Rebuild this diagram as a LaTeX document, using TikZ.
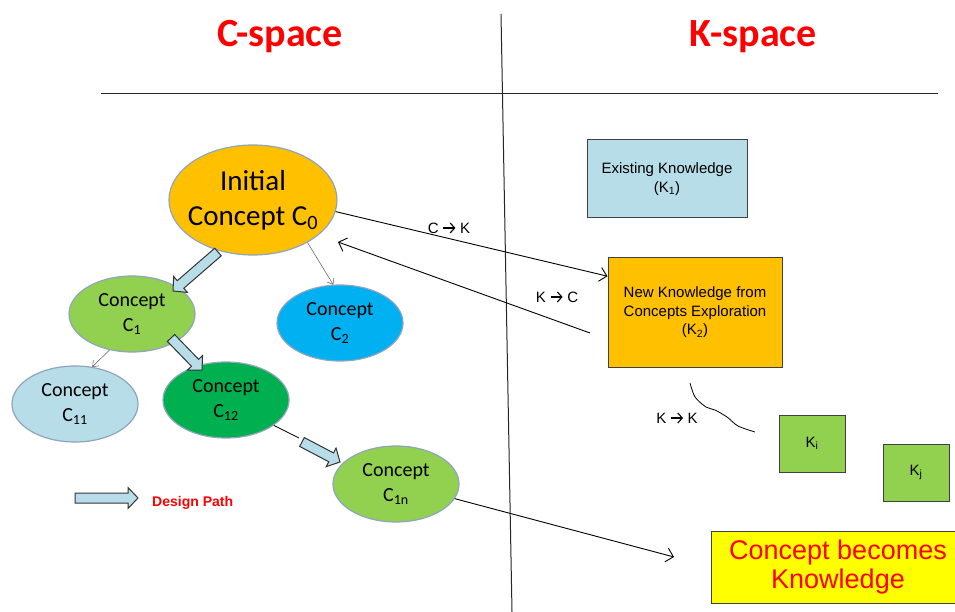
\documentclass[tikz,border=0pt]{standalone}
\usepackage{fontspec}
\setmainfont{Liberation Sans}
\newfontfamily\calfont{Carlito}
\usetikzlibrary{shapes.geometric,arrows.meta,calc}
\definecolor{corange}{HTML}{FFC000}
\definecolor{cgreen}{HTML}{92D050}
\definecolor{cblue}{HTML}{00B0F0}
\definecolor{clblue}{HTML}{B7DEE8}
\definecolor{cdgreen}{HTML}{00B050}
\definecolor{cedge}{HTML}{8FA4BD}
\definecolor{cyell}{HTML}{FFFF00}
\newcommand\arrowsym{\tikz[x=1pt,y=1pt,baseline=0pt]\draw[black,line width=1.1pt,-{Straight Barb[length=4.5pt,width=10pt,line width=1.1pt]}] (0,5.5) -- (12,5.5);}
\newcommand\dpath[3]{%
  \coordinate (#3) at ($(#2)!10pt!(#1)$);
  \draw[dpa] ($(#1)!5pt!90:(#2)$) -- ($(#3)!5pt!90:(#2)$) -- ($(#3)!10.5pt!90:(#2)$)
    -- (#2) -- ($(#3)!10.5pt!-90:(#2)$) -- ($(#3)!5pt!-90:(#2)$) -- ($(#1)!5pt!-90:(#2)$) -- cycle;}
\begin{document}
\begin{tikzpicture}[x=1pt,y=-1pt,
  concept/.style={ellipse, draw=cedge, line width=1.2pt, inner sep=0pt,
    minimum width=126pt, minimum height=76pt, align=center,
    font=\calfont\fontsize{20}{25}\selectfont},
  kbox/.style={rectangle, draw=black!75, line width=1pt, align=center, inner sep=0pt,
    font=\fontsize{15}{18.5}\selectfont},
  link/.style={-{Straight Barb[length=7pt,width=14pt]}, line width=0.9pt},
  thinarrow/.style={-{Straight Barb[length=5pt,width=8pt]}, line width=0.5pt, draw=black!65},
  dpa/.style={draw=black!80, fill=clblue, line width=1pt, line join=miter},
  lbl/.style={font=\fontsize{15}{18}\selectfont, inner sep=0pt},
  title/.style={anchor=base, text=red, font=\calfont\bfseries\fontsize{40}{48}\selectfont}]
\useasboundingbox (0,0) rectangle (955,612);
\fill[white] (0,0) rectangle (955,612);
% titles and dividers
\node[title] (tc) at (280,47) {C-space};
\node[title] (tk) at (753,47) {K-space};
\draw[line width=1pt, black!85] (101,94) -- (938,94);
\draw[line width=1pt, black!85] (501,14) -- (512,612);
% concept nodes
\node[concept, fill=corange, minimum width=168pt, minimum height=110pt, inner sep=-10pt,
  font=\calfont\fontsize{29}{35}\selectfont] (C0) at (253,200) {Initial\\Concept C\textsubscript{0}};
\node[concept, fill=cgreen] (C1) at (132,314) {Concept\\C\textsubscript{1}};
\node[concept, fill=cblue] (C2) at (340,323) {Concept\\C\textsubscript{2}};
\node[concept, fill=clblue] (C11) at (75,404) {Concept\\C\textsubscript{11}};
\node[concept, fill=cdgreen] (C12) at (226,400) {Concept\\C\textsubscript{12}};
\node[concept, fill=cgreen] (C1n) at (396,484) {Concept\\C\textsubscript{1n}};
% knowledge boxes
\node[kbox, fill=clblue, minimum width=160pt, minimum height=78pt] (K1) at (667,179) {Existing Knowledge\\(K\textsubscript{1})};
\node[kbox, fill=corange, minimum width=174pt, minimum height=109pt] (K2) at (695,312.5) {New Knowledge from\\Concepts Exploration\\(K\textsubscript{2})};
\node[kbox, fill=cgreen, minimum width=66pt, minimum height=57pt] (Ki) at (812,443.5) {K\textsubscript{i}};
\node[kbox, fill=cgreen, minimum width=66pt, minimum height=57pt] (Kj) at (916,472.5) {K\textsubscript{j}};
\node[kbox, fill=cyell, minimum width=254pt, minimum height=72pt, text=red,
  font=\fontsize{27}{29.5}\selectfont] (CK) at (838,567) {Concept becomes\\Knowledge};
% C <-> K links
\coordinate (kc1) at (590,333);
\coordinate (kc2) at (338,242);
\coordinate (ce) at (674,557);
\draw[link] (C0.-8) -- ($(K2.north west)!0.17!(K2.south west)$);
\draw[link] (kc1) -- (kc2);
\draw[link] (C1n.-14) -- (ce);
\node[lbl] (lck) at (449,228) {C \arrowsym\ K};
\node[lbl] (lkc) at (557,297) {K \arrowsym\ C};
\node[lbl] (lkk) at (677,418) {K \arrowsym\ K};
\draw[line width=0.8pt] plot[smooth] coordinates {(690,383) (695,397) (706,407) (715,410) (727,417) (738,426) (755,432)};
% thin concept links
\draw[thinarrow] (C0.-38) -- (C2.100);
\draw[thinarrow] (C1.-122) -- (C11.65);
% design path arrows
\coordinate (a1s) at (218,252); \coordinate (a1e) at (173,291);
\coordinate (a2s) at (171,338); \coordinate (a2e) at (202,370);
\coordinate (a3m) at (299,438);
\coordinate (a3s) at (302,442); \coordinate (a3e) at (340,462);
\coordinate (l1s) at (75,498); \coordinate (l1e) at (138,498);
\dpath{a1s}{a1e}{a1h}
\dpath{a2s}{a2e}{a2h}
\draw[line width=0.8pt] (C12.-28) -- (a3m);
\dpath{a3s}{a3e}{a3h}
\dpath{l1s}{l1e}{l1h}
\node[anchor=base west, inner sep=0pt, text=red, font=\bfseries\fontsize{14}{16}\selectfont] (dp) at (152,506) {Design Path};
\end{tikzpicture}
\end{document}
